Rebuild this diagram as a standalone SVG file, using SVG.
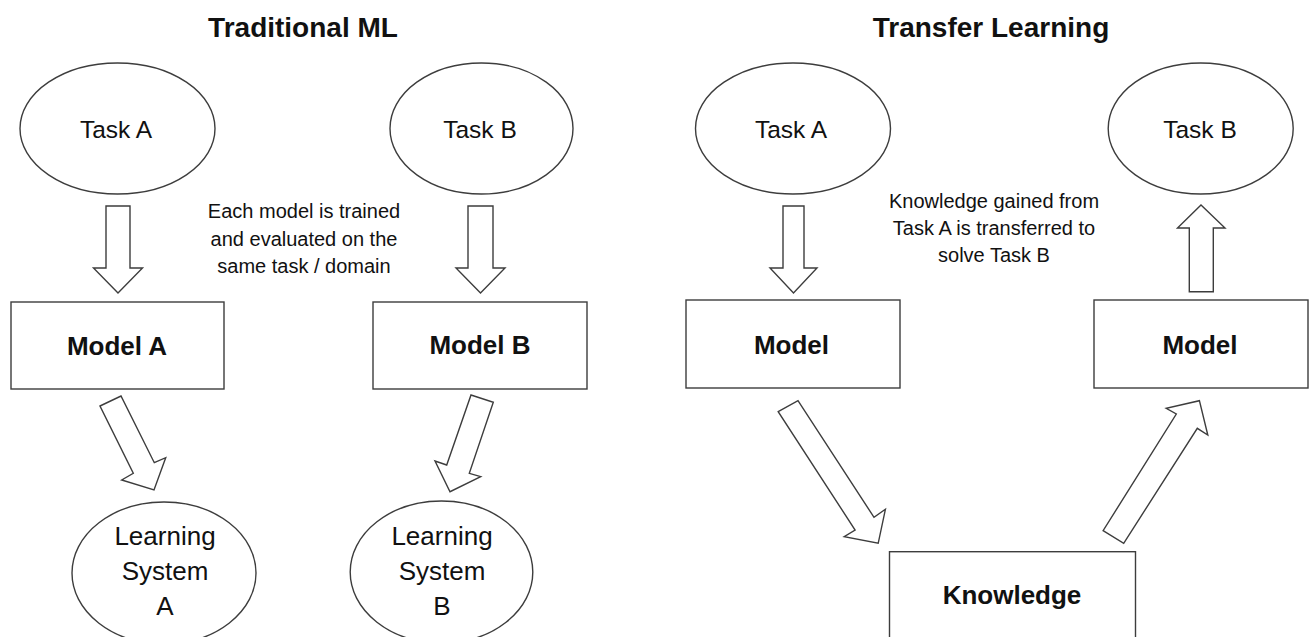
<svg xmlns="http://www.w3.org/2000/svg" width="1309" height="637" viewBox="0 0 1309 637">
  <style>
    .shape { fill: #ffffff; stroke: #3d3d3d; stroke-width: 1.4; }
    .arrow { fill: #ffffff; stroke: #3d3d3d; stroke-width: 1.4; stroke-linejoin: miter; }
    text { font-family: "Liberation Sans", Arial, sans-serif; fill: #111111; text-anchor: middle; }
    .title { font-size: 28px; font-weight: bold; }
    .task { font-size: 24.5px; }
    .sys { font-size: 26px; }
    .model { font-size: 26px; font-weight: bold; }
    .note { font-size: 20px; }
  </style>
  <rect width="1309" height="637" fill="#ffffff"/>

  <!-- section headings -->
  <text class="title" x="303" y="37">Traditional ML</text>
  <text class="title" x="991" y="37">Transfer Learning</text>

  <!-- annotations -->
  <g id="note-traditional">
    <text class="note" x="304" y="218">Each model is trained</text>
    <text class="note" x="304" y="245.5">and evaluated on the</text>
    <text class="note" x="304" y="273">same task / domain</text>
  </g>
  <g id="note-transfer">
    <text class="note" x="994" y="208">Knowledge gained from</text>
    <text class="note" x="994" y="235">Task A is transferred to</text>
    <text class="note" x="994" y="262">solve Task B</text>
  </g>

  <!-- Traditional ML nodes -->
  <g id="trad-task-a">
    <ellipse class="shape" cx="117.5" cy="128.5" rx="97.5" ry="65.5"/>
    <text class="task" x="116" y="138">Task A</text>
  </g>
  <g id="trad-task-b">
    <ellipse class="shape" cx="481.5" cy="128.5" rx="91.5" ry="65.5"/>
    <text class="task" x="480" y="138">Task B</text>
  </g>
  <g id="trad-model-a">
    <rect class="shape" x="11" y="302" width="213" height="87"/>
    <text class="model" x="117" y="355">Model A</text>
  </g>
  <g id="trad-model-b">
    <rect class="shape" x="373" y="302" width="214" height="87"/>
    <text class="model" x="480" y="354">Model B</text>
  </g>
  <g id="learning-system-a">
    <ellipse class="shape" cx="164" cy="573" rx="92" ry="71"/>
    <text class="sys" x="165" y="545">Learning</text>
    <text class="sys" x="165" y="580">System</text>
    <text class="sys" x="165" y="615">A</text>
  </g>
  <g id="learning-system-b">
    <ellipse class="shape" cx="441.5" cy="572" rx="91.3" ry="71"/>
    <text class="sys" x="442" y="545">Learning</text>
    <text class="sys" x="442" y="580">System</text>
    <text class="sys" x="442" y="615">B</text>
  </g>

  <!-- Transfer Learning nodes -->
  <g id="tl-task-a">
    <ellipse class="shape" cx="793" cy="128.5" rx="97.5" ry="65.5"/>
    <text class="task" x="791" y="138">Task A</text>
  </g>
  <g id="tl-task-b">
    <ellipse class="shape" cx="1200.7" cy="128.5" rx="92.5" ry="65.5"/>
    <text class="task" x="1200" y="138">Task B</text>
  </g>
  <g id="tl-model-source">
    <rect class="shape" x="686" y="300" width="214" height="88"/>
    <text class="model" x="791.5" y="354">Model</text>
  </g>
  <g id="tl-model-target">
    <rect class="shape" x="1094" y="300" width="214" height="88"/>
    <text class="model" x="1200" y="353.5">Model</text>
  </g>
  <g id="tl-knowledge">
    <rect class="shape" x="889.5" y="551.7" width="246" height="140"/>
    <text class="model" x="1012" y="604">Knowledge</text>
  </g>

  <!-- block-arrow connectors -->
  <g id="connectors">
    <!-- Task A -> Model A -->
    <polygon class="arrow" points="106,206 130,206 130,268 142.5,268 118,293 93.5,268 106,268"/>
    <!-- Task B -> Model B -->
    <polygon class="arrow" points="468,206 493,206 493,268 505,268 480.5,293 456,268 468,268"/>
    <!-- Model A -> Learning System A -->
    <polygon class="arrow" points="100,406 121,396 154.3,462.7 165.7,457.7 154,490 121.7,480 133.3,473.3"/>
    <!-- Model B -> Learning System B -->
    <polygon class="arrow" points="471,395 493.3,402.3 469.3,473.3 480.7,476.7 450,491.7 435,461 446.7,465"/>
    <!-- Task A -> Model (transfer) -->
    <polygon class="arrow" points="783,206 804,206 804,268 817,268 793.5,293 770,268 783,268"/>
    <!-- Model -> Knowledge -->
    <polygon class="arrow" points="778.2,411.7 798,400.7 874,517.3 885.4,509.3 878.2,543.3 844.2,536.7 855.1,530"/>
    <!-- Knowledge -> Model -->
    <polygon class="arrow" points="1103.1,530.7 1123.7,543.3 1197.3,428.3 1207.8,435 1199.4,400.7 1166.2,408.3 1176.3,414"/>
    <!-- Model -> Task B -->
    <polygon class="arrow" points="1189.3,291.7 1213.3,291.7 1213.3,228 1225,228 1201,205 1177.5,228 1189.3,228"/>
  </g>
</svg>
